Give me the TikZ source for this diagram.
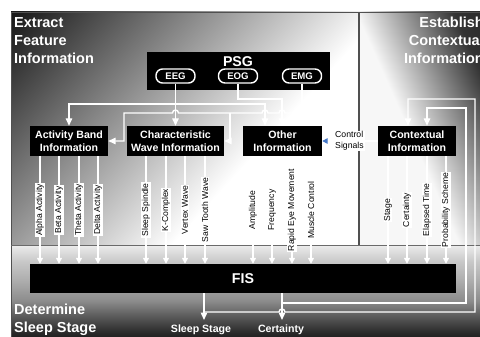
\documentclass[tikz,border=0pt]{standalone}
\usepackage{fontspec}
\setmainfont{Liberation Sans}
\usetikzlibrary{arrows.meta,calc}

\definecolor{ctlblue}{RGB}{70,120,200}
\definecolor{rule}{RGB}{80,80,80}

% panel backgrounds
\pgfdeclarehorizontalshading{featureshade}{100bp}{rgb(0bp)=(0.085,0.085,0.085); rgb(41.54bp)=(0.1,0.1,0.1); rgb(58.46bp)=(1,1,1); rgb(100bp)=(1,1,1)}
\pgfdeclarehorizontalshading{contextshade}{100bp}{rgb(0bp)=(0.97,0.97,0.97); rgb(43.75bp)=(0.97,0.97,0.97); rgb(55bp)=(0.2,0.2,0.2); rgb(58.75bp)=(0.16,0.16,0.16); rgb(100bp)=(0.16,0.16,0.16)}
\pgfdeclareverticalshading{stageshade}{100bp}{rgb(0bp)=(0.12,0.12,0.12); rgb(25bp)=(0.12,0.12,0.12); rgb(28.8bp)=(0.18,0.18,0.18); rgb(37bp)=(0.36,0.36,0.36); rgb(45.1bp)=(0.55,0.55,0.55); rgb(56bp)=(0.68,0.68,0.68); rgb(65.8bp)=(0.78,0.78,0.78); rgb(73.4bp)=(0.9,0.9,0.9); rgb(75bp)=(0.93,0.93,0.93); rgb(100bp)=(0.93,0.93,0.93)}

\newcommand\fTitle{\fontsize{14.5}{18}\selectfont\bfseries}
\newcommand\fBox{\fontsize{10.6}{12.7}\selectfont\bfseries}
\newcommand\fBig{\fontsize{14.2}{17}\selectfont\bfseries}
\newcommand\fPill{\fontsize{9.6}{11}\selectfont\bfseries}
\newcommand\fSig{\fontsize{8.6}{10}\selectfont}
\newcommand\fCtl{\fontsize{8.7}{10.5}\selectfont}

\begin{document}
\begin{tikzpicture}[x=1pt,y=-1pt,
  wire/.style={draw=white, line width=1.4pt},
  tip/.style={-{Triangle[width=6.5pt,length=7.5pt]}},
  ftip/.style={-{Triangle[width=6pt,length=6pt]}},
  box/.style={fill=black, text=white, font=\fBox, align=center, inner sep=0pt, minimum height=30pt},
  pill/.style={fill=black, draw=white, line width=1.4pt, rounded corners=6.5pt, text=white, font=\fPill, minimum width=39pt, minimum height=14pt, inner sep=0pt},
  sig/.style={rotate=90, fill=white, text=black, font=\fSig, inner xsep=1pt, inner ysep=0.6pt},
  title/.style={text=white, font=\fTitle, inner sep=0pt},
  outlbl/.style={text=white, font=\fBox, inner sep=0pt},
]
\useasboundingbox (0,0) rectangle (480,337);
\fill[white] (0,0) rectangle (480,337);

% --- panels ---
\begin{scope}
  \clip (11,12) rectangle (359,245);
  \shade[shading=featureshade, transform canvas={rotate around={-42.3:(135.6,83.5)}}]
    (-264.4,-316.5) rectangle (535.6,483.5);
\end{scope}
\begin{scope}
  \clip (359,12) rectangle (481,245);
  \shade[shading=contextshade, transform canvas={rotate around={24:(455.1,112.7)}}]
    (255.1,-87.3) rectangle (655.1,312.7);
\end{scope}
\shade[shading=stageshade] (11,245) rectangle (481,338);
\draw[rule, line width=0.8pt] (11,12) rectangle (481,338);
\draw[rule, line width=1.2pt] (359,12) -- (359,245);
\draw[rule!85!white, line width=1pt] (11,245) -- (481,245);

% --- panel titles ---
\node[title, anchor=base west] (tA1) at (14,28) {Extract};
\node[title, anchor=base west] (tA2) at (14,46) {Feature};
\node[title, anchor=base west] (tA3) at (14,64) {Information};
\node[title, anchor=base east] (tB1) at (484,28) {Establish};
\node[title, anchor=base east] (tB2) at (484,46) {Contextual};
\node[title, anchor=base east] (tB3) at (484,64) {Information};
\node[title, anchor=base west] (tC1) at (14,314) {Determine};
\node[title, anchor=base west] (tC2) at (14,332) {Sleep Stage};

% --- blocks ---
\node[fill=black, minimum width=183pt, minimum height=38pt, inner sep=0pt] (psg) at (238.5,71) {};
\node[text=white, font=\fBig, inner sep=0pt, anchor=base] (psgname) at (238,67) {PSG};
\node[pill] (eeg) at (175.5,76) {EEG};
\node[pill] (eog) at (238,76) {EOG};
\node[pill] (emg) at (302,76) {EMG};

\node[box, minimum width=78pt] (ab)  at (69,141)    {Activity Band\\Information};
\node[box, minimum width=97pt] (cw)  at (175.5,141) {Characteristic\\Wave Information};
\node[box, minimum width=79pt] (oth) at (282.5,141) {Other\\Information};
\node[box, minimum width=78pt] (ctx) at (417,141)   {Contextual\\Information};

\node[fill=black, text=white, font=\fBig, minimum width=426pt, minimum height=29pt, inner sep=0pt] (fis) at (243,278.5) {FIS};

% --- sensor routing ---
\coordinate (jE) at (175.5,104);
\draw[wire, tip] (eeg.south) -- (cw.north);
\draw[wire, tip] (jE) -- (69,104) -- (ab.north);
\draw[wire, tip] (jE) -- (265,104) -- ($(oth.north)+(-17.5,0)$);
\draw[wire, tip] (eog.south) -- (238,99) -- (282,99) -- ($(oth.north)+(-0.5,0)$);
\draw[wire, tip] (emg.south) -- ($(oth.north)+(19.5,0)$);

% --- control signals ---
\coordinate (ctlUp) at (330,141);
\coordinate (ctlCw) at (230,113);
\draw[wire, -{Triangle[width=5.5pt,length=5.5pt,color=ctlblue]}] (ctx.west) -- (oth.east);
\draw[wire, tip] (ctlUp) -- (330,113) -- (305,113) arc[start angle=0, end angle=180, radius=3pt]
  -- (285,113) arc[start angle=0, end angle=180, radius=3pt]
  -- (268,113) arc[start angle=0, end angle=180, radius=3pt]
  -- (178.5,113) arc[start angle=0, end angle=180, radius=3pt]
  -- (124,113) -- (124,141) -- (ab.east);
\draw[wire, tip] (ctlCw) -- (230,141) -- (cw.east);
\node[fill=white, text=black, font=\fCtl, align=left, inner sep=1pt, anchor=west] (ctl) at (334,141) {Control\\Signals};

% --- features into the inference system ---
\foreach \x/\t [count=\i] in {40/Alpha Activity, 59/Beta Activity, 79/Theta Activity, 98/Delta Activity}{
  \coordinate (a\i) at (\x,210);
  \draw[wire, ftip] (a\i |- ab.south) -- (a\i |- fis.north);
  \node[sig] (la\i) at (a\i) {\t};
}
\foreach \x/\t [count=\i] in {146/Sleep Spindle, 166/K-Complex, 185/Vertex Wave, 205/Saw Tooth Wave}{
  \coordinate (c\i) at (\x,210);
  \draw[wire, ftip] (c\i |- cw.south) -- (c\i |- fis.north);
  \node[sig] (lc\i) at (c\i) {\t};
}
\foreach \x/\t [count=\i] in {253/Amplitude, 272/Frequency, 292/Rapid Eye Movement, 311/Muscle Control}{
  \coordinate (o\i) at (\x,210);
  \draw[wire, ftip] (o\i |- oth.south) -- (o\i |- fis.north);
  \node[sig] (lo\i) at (o\i) {\t};
}
\foreach \x/\t [count=\i] in {388/Stage, 407/Certainty, 427/Elapsed Time, 446/Probability Scheme}{
  \coordinate (k\i) at (\x,210);
  \draw[wire, ftip] (k\i |- ctx.south) -- (k\i |- fis.north);
  \node[sig] (lk\i) at (k\i) {\t};
}

% --- outputs and feedback ---
\coordinate (stageOut) at (204,293);
\coordinate (certOut) at (282,293);
\coordinate (stageArr) at (204,320);
\coordinate (certArr) at (282,320);
\coordinate (jS) at (204,312);
\coordinate (jC) at (282,303);
\draw[wire, tip] (stageOut) -- (stageArr);
\draw[wire, tip] (certOut) -- (certArr);
\draw[wire, tip] (jS) -- (279,312) arc[start angle=180, end angle=0, radius=3pt]
  -- (475,312) -- (475,99) -- (408,99) -- ($(ctx.north)+(-9,0)$);
\draw[wire, tip] (jC) -- (466,303) -- (466,108) -- (427,108) -- ($(ctx.north)+(10,0)$);
\node[outlbl, anchor=base] (outStage) at (201,332) {Sleep Stage};
\node[outlbl, anchor=base] (outCert) at (281,332) {Certainty};
\end{tikzpicture}
\end{document}
